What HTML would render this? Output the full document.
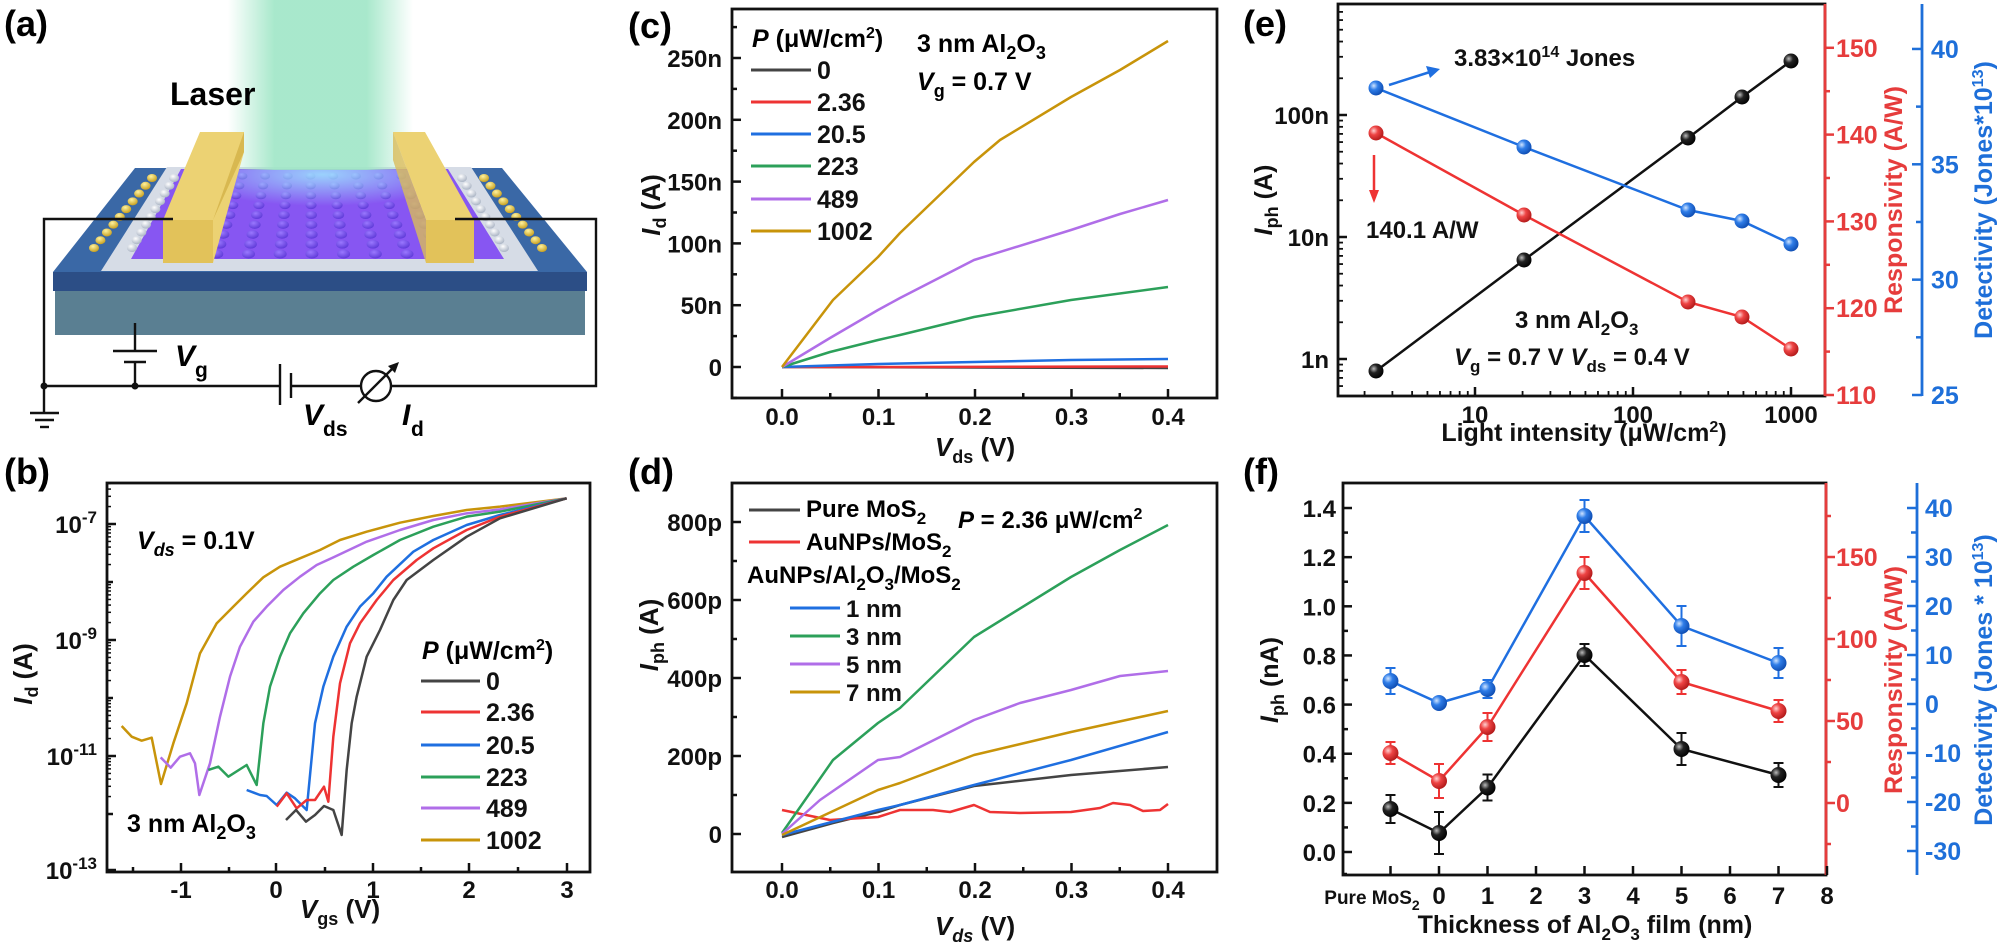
<!DOCTYPE html>
<html><head><meta charset="utf-8">
<style>
html,body{margin:0;padding:0;background:#fff;}
svg{display:block;font-family:"Liberation Sans",Arial,sans-serif;font-weight:bold;}
.t{font-size:24px;fill:#111;}
</style></head>
<body>
<svg id="s" width="2000" height="945" viewBox="0 0 2000 945" xmlns="http://www.w3.org/2000/svg">
<defs>
<linearGradient id="beam" x1="0" x2="1" y1="0" y2="0">
<stop offset="0" stop-color="#9fe6c6" stop-opacity="0"/>
<stop offset="0.25" stop-color="#9fe6c6" stop-opacity="0.9"/>
<stop offset="0.75" stop-color="#9fe6c6" stop-opacity="0.9"/>
<stop offset="1" stop-color="#9fe6c6" stop-opacity="0"/>
</linearGradient>
<linearGradient id="beamv" x1="0" x2="0" y1="0" y2="1">
<stop offset="0" stop-color="#fff" stop-opacity="0.5"/>
<stop offset="1" stop-color="#fff" stop-opacity="0"/>
</linearGradient>
<radialGradient id="gk" cx="0.35" cy="0.35" r="0.7"><stop offset="0" stop-color="#bbb"/><stop offset="0.4" stop-color="#222"/><stop offset="1" stop-color="#000"/></radialGradient>
<radialGradient id="gr" cx="0.35" cy="0.35" r="0.7"><stop offset="0" stop-color="#ffd0d0"/><stop offset="0.4" stop-color="#ee4444"/><stop offset="1" stop-color="#b01818"/></radialGradient>
<radialGradient id="gb" cx="0.35" cy="0.35" r="0.7"><stop offset="0" stop-color="#cfe4ff"/><stop offset="0.4" stop-color="#2f7de8"/><stop offset="1" stop-color="#0d4bb0"/></radialGradient>
<radialGradient id="gau" cx="0.4" cy="0.3" r="0.7"><stop offset="0" stop-color="#fff3a0"/><stop offset="1" stop-color="#c8a020"/></radialGradient>
<radialGradient id="gw" cx="0.4" cy="0.3" r="0.7"><stop offset="0" stop-color="#ffffff"/><stop offset="1" stop-color="#aab4c4"/></radialGradient>
<radialGradient id="gp" cx="0.4" cy="0.3" r="0.7"><stop offset="0" stop-color="#9a78ff"/><stop offset="1" stop-color="#5f3ad8"/></radialGradient>
<radialGradient id="glow" cx="0.5" cy="0.1" r="0.7"><stop offset="0" stop-color="#9ff0ff" stop-opacity="0.8"/><stop offset="1" stop-color="#9ff0ff" stop-opacity="0"/></radialGradient>
</defs>

<!-- ================= Panel (a) ================= -->
<text x="4" y="36" style="font-size:36px">(a)</text>
<!-- slab -->
<polygon points="135,168 502,168 587,272 53,272" fill="#3a68a6"/>
<rect x="53" y="272" width="534" height="19" fill="#2c4e86"/>
<rect x="55" y="291" width="530" height="44" fill="#5a7f92"/>
<!-- gray layer -->
<polygon points="167,167 471,167 538,271 101,271" fill="#d6dce6"/>
<!-- purple -->
<polygon points="181,169 448,169 504,259 131,259" fill="#8756f2"/>
<g id="bumps"></g>
<!-- beam -->
<rect x="228" y="0" width="185" height="170" fill="url(#beam)"/>
<polygon points="230,170 410,170 420,215 225,215" fill="url(#glow)"/>
<!-- electrodes -->
<polygon points="200,132 244,132 244,152 213,263 163,263 163,220" fill="#ecd273"/>
<polygon points="213,220 244,152 244,132 213,220" fill="#d8b850"/>
<rect x="163" y="220" width="50" height="43" fill="#e2c25a"/>
<polygon points="393,132 425,132 474,220 474,263 426,263 426,220" fill="#ecd273"/>
<rect x="426" y="220" width="48" height="43" fill="#e2c25a"/>
<polygon points="393,132 426,220 426,263 393,160" fill="#d9bc5a" opacity="0.8"/>
<!-- wires -->
<g stroke="#111" stroke-width="2.4" fill="none">
<polyline points="173,219 44,219 44,413"/>
<polyline points="455,219 596,219 596,386 391,386"/>
<line x1="44" y1="386" x2="280" y2="386"/>
<line x1="291" y1="386" x2="361" y2="386"/>
<line x1="135" y1="323" x2="135" y2="351"/>
<line x1="113" y1="351" x2="157" y2="351"/>
<line x1="124" y1="362" x2="146" y2="362"/>
<line x1="135" y1="362" x2="135" y2="386"/>
<line x1="30" y1="413" x2="59" y2="413"/>
<line x1="35" y1="420" x2="54" y2="420"/>
<line x1="40" y1="427" x2="49" y2="427"/>
<line x1="280" y1="364" x2="280" y2="405"/>
<line x1="291" y1="373" x2="291" y2="398"/>
<circle cx="376" cy="386" r="15"/>
<line x1="358" y1="403" x2="395" y2="366"/>
</g>
<polygon points="399,362 388,366 395,373" fill="#111"/>
<circle cx="44" cy="386" r="3.5" fill="#111"/>
<circle cx="135" cy="386" r="3.5" fill="#111"/>
<text x="170" y="105" style="font-size:32px">Laser</text>
<text x="175" y="366" style="font-size:30px;font-style:italic">V</text><text x="195" y="377" style="font-size:21px">g</text>
<text x="303" y="425" style="font-size:30px;font-style:italic">V</text><text x="323" y="436" style="font-size:21px">ds</text>
<text x="402" y="425" style="font-size:30px;font-style:italic">I</text><text x="411" y="436" style="font-size:21px">d</text>

<!-- ================= Panel (b) ================= -->
<text x="4" y="484" style="font-size:36px">(b)</text>
<g id="bax"></g>
<g transform="translate(0,470) scale(0.33333)" fill="none" stroke-width="7.5" stroke-linejoin="round">
<polyline stroke="#c8940a" points="365,768 395,800 425,812 455,803 483,942 520,820 560,700 600,550 650,460 700,410 740,370 790,322 840,290 900,265 960,240 1020,210 1100,185 1200,158 1300,138 1400,120 1500,110 1700,85"/>
<polyline stroke="#b06ee8" points="482,862 512,893 540,860 570,850 585,880 598,975 630,880 660,740 690,620 720,530 760,455 800,410 850,360 900,320 950,285 1000,262 1100,215 1200,180 1300,150 1400,130 1500,118 1700,85"/>
<polyline stroke="#2ca05a" points="625,900 655,890 685,920 740,885 770,945 790,760 810,650 840,560 870,490 910,430 960,370 1000,330 1060,290 1120,255 1200,210 1300,170 1400,140 1500,125 1700,85"/>
<polyline stroke="#1f6fe0" points="740,960 780,975 800,978 830,1005 860,968 885,985 920,1020 945,760 970,650 1000,560 1040,470 1080,410 1120,370 1160,320 1240,245 1300,210 1400,165 1500,135 1700,85"/>
<polyline stroke="#ee3333" points="830,1010 860,970 890,1015 920,990 945,990 972,950 985,995 1000,800 1020,640 1050,520 1080,460 1130,390 1180,330 1250,270 1300,235 1400,180 1500,140 1700,85"/>
<polyline stroke="#444" points="858,1050 888,1020 918,1055 945,1035 972,1008 1000,1020 1025,1095 1040,900 1055,760 1070,680 1100,560 1140,480 1180,390 1220,330 1300,270 1400,200 1500,145 1700,85"/>
</g>
<text x="137" y="549" style="font-size:25px"><tspan font-style="italic">V</tspan><tspan dy="7" font-size="18" font-style="italic">ds</tspan><tspan dy="-7"> = 0.1V</tspan></text>
<text x="127" y="832" style="font-size:25px">3 nm Al<tspan dy="7" font-size="18">2</tspan><tspan dy="-7">O</tspan><tspan dy="7" font-size="18">3</tspan></text>
<text x="422" y="659" style="font-size:25px"><tspan font-style="italic">P</tspan> (μW/cm<tspan dy="-9" font-size="16">2</tspan><tspan dy="9">)</tspan></text>
<g id="bleg"></g>
<text x="32" y="674" transform="rotate(-90 32 674)" text-anchor="middle" class="t" style="font-size:26px"><tspan font-style="italic">I</tspan><tspan dy="6" font-size="18">d</tspan><tspan dy="-6"> (A)</tspan></text>
<text x="340" y="918" text-anchor="middle" class="t" style="font-size:26px"><tspan font-style="italic">V</tspan><tspan dy="7" font-size="18">gs</tspan><tspan dy="-7"> (V)</tspan></text>

<!-- ================= Panel (c) ================= -->
<text x="628" y="38" style="font-size:36px">(c)</text>
<g id="cax"></g>
<g fill="none" stroke-width="2.5" stroke-linejoin="round">
<polyline stroke="#444" points="782,367 1168,368"/>
<polyline stroke="#ee3333" points="782,367 900,367 1168,366.5"/>
<polyline stroke="#1f6fe0" points="782,367 878,364 974,362 1071,360 1168,359"/>
<polyline stroke="#2ca05a" points="782,367 830,352 878,340 900,335 974,317 1071,300 1168,287"/>
<polyline stroke="#b06ee8" points="782,367 830,338 878,310 900,298 974,260 1071,230 1120,214 1168,200"/>
<polyline stroke="#c8940a" points="782,367 833,300 878,257 900,233 974,162 1000,140 1071,97 1120,70 1168,41"/>
</g>
<text x="752" y="47" style="font-size:25px"><tspan font-style="italic">P</tspan> (μW/cm<tspan dy="-9" font-size="16">2</tspan><tspan dy="9">)</tspan></text>
<text x="917" y="52" style="font-size:25px">3 nm Al<tspan dy="7" font-size="18">2</tspan><tspan dy="-7">O</tspan><tspan dy="7" font-size="18">3</tspan></text>
<text x="917" y="90" style="font-size:25px"><tspan font-style="italic">V</tspan><tspan dy="7" font-size="18">g</tspan><tspan dy="-7"> = 0.7 V</tspan></text>
<g id="cleg"></g>
<text x="660" y="205" transform="rotate(-90 660 205)" text-anchor="middle" class="t" style="font-size:26px"><tspan font-style="italic">I</tspan><tspan dy="6" font-size="18">d</tspan><tspan dy="-6"> (A)</tspan></text>
<text x="975" y="456" text-anchor="middle" class="t" style="font-size:26px"><tspan font-style="italic">V</tspan><tspan dy="7" font-size="18">ds</tspan><tspan dy="-7"> (V)</tspan></text>

<!-- ================= Panel (d) ================= -->
<text x="628" y="484" style="font-size:36px">(d)</text>
<g id="dax"></g>
<g fill="none" stroke-width="2.5" stroke-linejoin="round">
<polyline stroke="#444" points="782,837 833,823 878,812 900,805 974,786 1071,775 1168,767"/>
<polyline stroke="#ee3333" points="782,810 830,820 878,817 900,810 933,810 950,812 974,805 990,812 1020,813 1071,812 1100,808 1113,803 1130,805 1143,811 1160,810 1168,804"/>
<polyline stroke="#1f6fe0" points="782,835 878,810 900,805 974,785 1071,760 1168,732"/>
<polyline stroke="#2ca05a" points="782,833 833,760 878,723 900,708 974,637 1071,577 1120,550 1168,525"/>
<polyline stroke="#b06ee8" points="782,834 820,800 878,760 900,757 974,720 1020,703 1071,690 1120,676 1168,671"/>
<polyline stroke="#c8940a" points="782,835 878,790 900,783 974,755 1071,732 1168,711"/>
</g>
<g id="dleg"></g>
<text x="806" y="517" style="font-size:24px">Pure MoS<tspan dy="7" font-size="17">2</tspan></text>
<text x="806" y="550" style="font-size:24px">AuNPs/MoS<tspan dy="7" font-size="17">2</tspan></text>
<text x="747" y="583" style="font-size:24px">AuNPs/Al<tspan dy="7" font-size="17">2</tspan><tspan dy="-7">O</tspan><tspan dy="7" font-size="17">3</tspan><tspan dy="-7">/MoS</tspan><tspan dy="7" font-size="17">2</tspan></text>
<text x="958" y="528" style="font-size:24px"><tspan font-style="italic">P</tspan> = 2.36 μW/cm<tspan dy="-9" font-size="16">2</tspan></text>
<text x="658" y="635" transform="rotate(-90 658 635)" text-anchor="middle" class="t" style="font-size:26px"><tspan font-style="italic">I</tspan><tspan dy="6" font-size="18">ph</tspan><tspan dy="-6"> (A)</tspan></text>
<text x="975" y="935" text-anchor="middle" class="t" style="font-size:26px"><tspan font-style="italic">V</tspan><tspan dy="7" font-size="18" font-style="italic">ds</tspan><tspan dy="-7"> (V)</tspan></text>

<!-- ================= Panel (e) ================= -->
<text x="1243" y="36" style="font-size:36px">(e)</text>
<g id="eax"></g>
<g fill="none" stroke-width="2.5">
<polyline stroke="#111" points="1376,371 1524,260 1688,138 1742,97 1791,61"/>
<polyline stroke="#ee3333" points="1376,133 1524,215 1688,302 1742,317 1791,349"/>
<polyline stroke="#1f6fe0" points="1376,88 1524,147 1688,210 1742,221 1791,244"/>
</g>
<g id="emk"></g>
<line x1="1389" y1="85" x2="1430" y2="72" stroke="#1f6fe0" stroke-width="2.5"/>
<polygon points="1440,69 1426,66 1430,78" fill="#1f6fe0"/>
<line x1="1374" y1="155" x2="1374" y2="192" stroke="#ee3333" stroke-width="2.5"/>
<polygon points="1374,203 1369,190 1379,190" fill="#ee3333"/>
<text x="1454" y="66" class="t" style="font-size:24px">3.83×10<tspan dy="-9" font-size="16">14</tspan><tspan dy="9"> Jones</tspan></text>
<text x="1366" y="238" class="t" style="font-size:24px">140.1 A/W</text>
<text x="1515" y="328" class="t" style="font-size:24px">3 nm Al<tspan dy="7" font-size="17">2</tspan><tspan dy="-7">O</tspan><tspan dy="7" font-size="17">3</tspan></text>
<text x="1454" y="365" class="t" style="font-size:24px"><tspan font-style="italic">V</tspan><tspan dy="7" font-size="17">g</tspan><tspan dy="-7"> = 0.7 V   </tspan><tspan font-style="italic">V</tspan><tspan dy="7" font-size="17">ds</tspan><tspan dy="-7"> = 0.4 V</tspan></text>
<text x="1272" y="200" transform="rotate(-90 1272 200)" text-anchor="middle" class="t" style="font-size:25px"><tspan font-style="italic">I</tspan><tspan dy="6" font-size="18">ph</tspan><tspan dy="-6"> (A)</tspan></text>
<text x="1584" y="441" text-anchor="middle" class="t" style="font-size:25px">Light intensity (μW/cm<tspan dy="-9" font-size="16">2</tspan><tspan dy="9">)</tspan></text>
<text x="1902" y="200" transform="rotate(-90 1902 200)" text-anchor="middle" style="font-size:25px;fill:#e63c3c">Responsivity (A/W)</text>
<text x="1992" y="200" transform="rotate(-90 1992 200)" text-anchor="middle" style="font-size:25px;fill:#1e6fd9">Detectivity (Jones*10<tspan dy="-9" font-size="16">13</tspan><tspan dy="9">)</tspan></text>

<!-- ================= Panel (f) ================= -->
<text x="1243" y="484" style="font-size:36px">(f)</text>
<g id="fax"></g>
<g id="fdata"></g>
<text x="1278" y="680" transform="rotate(-90 1278 680)" text-anchor="middle" class="t" style="font-size:25px"><tspan font-style="italic">I</tspan><tspan dy="6" font-size="18">ph</tspan><tspan dy="-6"> (nA)</tspan></text>
<text x="1585" y="933" text-anchor="middle" class="t" style="font-size:25px">Thickness of Al<tspan dy="7" font-size="17">2</tspan><tspan dy="-7">O</tspan><tspan dy="7" font-size="17">3</tspan><tspan dy="-7"> film (nm)</tspan></text>
<text x="1902" y="680" transform="rotate(-90 1902 680)" text-anchor="middle" style="font-size:25px;fill:#e63c3c">Responsivity (A/W)</text>
<text x="1992" y="680" transform="rotate(-90 1992 680)" text-anchor="middle" style="font-size:25px;fill:#1e6fd9">Detectivity (Jones * 10<tspan dy="-9" font-size="16">13</tspan><tspan dy="9">)</tspan></text>
</svg>
<script>
(function(){
var NS="http://www.w3.org/2000/svg";
function el(g,tag,a,txt){var e=document.createElementNS(NS,tag);for(var k in a)e.setAttribute(k,a[k]);if(txt!==undefined)e.textContent=txt;document.getElementById(g).appendChild(e);return e;}
function ln(g,x1,y1,x2,y2,c,w){el(g,"line",{x1:x1,y1:y1,x2:x2,y2:y2,stroke:c||"#111","stroke-width":w||2.5});}
function tx(g,x,y,s,anc,c,fs){return el(g,"text",{x:x,y:y,"text-anchor":anc||"middle",fill:c||"#111","font-size":fs||24},s);}
function box(g,x1,y1,x2,y2){el(g,"rect",{x:x1,y:y1,width:x2-x1,height:y2-y1,fill:"none",stroke:"#111","stroke-width":2.8});}

// bumps in panel a
var i,j;
for(i=0;i<8;i++){for(j=0;j<9;j++){var t=j/8;var y=176+t*78;var xl=196-t*52+ (i+0.5)*((256-0)+t*( (498-131)-(448-181) ))/8*0+0;
 var left=181-(181-131)*t, right=448+(504-448)*t; var x=left+ (right-left)*(0.23+i*0.085);
 if(x>163&&x<213&&y>220)continue;
 el("bumps","ellipse",{cx:x,cy:y,rx:5+t*1.5,ry:3.5+t,fill:"url(#gp)"});}}
for(j=0;j<10;j++){var t=j/9;el("bumps","ellipse",{cx:152-t*58,cy:178+t*70,rx:5,ry:4,fill:"url(#gau)"});
 el("bumps","ellipse",{cx:174-t*42,cy:178+t*70,rx:5,ry:4,fill:"url(#gw)"});
 el("bumps","ellipse",{cx:484+t*58,cy:178+t*70,rx:5,ry:4,fill:"url(#gau)"});
 el("bumps","ellipse",{cx:462+t*42,cy:178+t*70,rx:5,ry:4,fill:"url(#gw)"});}

// ---- b axes
box("bax",107,483,590,872);
var dec=[[524,"-7"],[640,"-9"],[756,"-11"],[870,"-13"]];
dec.forEach(function(d){ln("bax",107,d[0],116,d[0]);var t=tx("bax",97,d[0]+9,"10","end");var s=document.createElementNS(NS,"tspan");s.setAttribute("dy","-10");s.setAttribute("font-size","17");s.textContent=d[1];t.appendChild(s);});
[582,698,814].forEach(function(y){ln("bax",107,y,113,y);});
for(var k=1;k<10;k++){[524,582,640,698,756,814].forEach(function(y0){var y=y0-58*Math.log10(k);if(k>1&&y>483)ln("bax",107,y,111,y,"#111",1.5);});}
var bx=[[181,"-1"],[276,"0"],[373,"1"],[469,"2"],[567,"3"]];
bx.forEach(function(d){ln("bax",d[0],872,d[0],863);tx("bax",d[0],898,d[1]);});
[133,229,325,421,518].forEach(function(x){ln("bax",x,872,x,867);});
var bl=[["#444","0"],["#ee3333","2.36"],["#1f6fe0","20.5"],["#2ca05a","223"],["#b06ee8","489"],["#c8940a","1002"]];
var by=[681,712,745,777,808,840];
bl.forEach(function(d,i){ln("bleg",421,by[i],480,by[i],d[0],3);tx("bleg",486,by[i]+9,d[1],"start","#111",25);});

// ---- c axes
box("cax",732,9,1217,398);
var cy0=367,cs=1.236;
for(var v=0;v<=250;v+=50){var y=cy0-v*cs;ln("cax",732,y,741,y);tx("cax",722,y+9,v==0?"0":v+"n","end");}
for(var v=-25;v<=275;v+=50){var y=cy0-v*cs;if(y>9&&y<398)ln("cax",732,y,737,y);}
var xs=[782,878.5,975,1071.5,1168];
xs.forEach(function(x,i){ln("cax",x,398,x,389);tx("cax",x,425,(i/10).toFixed(1));});
for(i=0;i<4;i++)ln("cax",(xs[i]+xs[i+1])/2,398,(xs[i]+xs[i+1])/2,393);
var cl=[["#444","0"],["#ee3333","2.36"],["#1f6fe0","20.5"],["#2ca05a","223"],["#b06ee8","489"],["#c8940a","1002"]];
var cyy=[70,102,134,166,199,231];
cl.forEach(function(d,i){ln("cleg",751,cyy[i],811,cyy[i],d[0],3);tx("cleg",817,cyy[i]+9,d[1],"start","#111",25);});

// ---- d axes
box("dax",732,483,1217,872);
for(var v=0;v<=800;v+=200){var y=834-v*0.39;ln("dax",732,y,741,y);tx("dax",722,y+9,v==0?"0":v+"p","end");}
for(var v=-100;v<=900;v+=200){var y=834-v*0.39;if(y>483&&y<872)ln("dax",732,y,737,y);}
xs.forEach(function(x,i){ln("dax",x,872,x,863);tx("dax",x,898,(i/10).toFixed(1));});
for(i=0;i<4;i++)ln("dax",(xs[i]+xs[i+1])/2,872,(xs[i]+xs[i+1])/2,867);
ln("dleg",749,510,800,510,"#444",3);ln("dleg",749,542,800,542,"#ee3333",3);
var dl=[["#1f6fe0","1 nm"],["#2ca05a","3 nm"],["#b06ee8","5 nm"],["#c8940a","7 nm"]];var dy=[608,636,664,692];
dl.forEach(function(d,i){ln("dleg",790,dy[i],840,dy[i],d[0],3);tx("dleg",846,dy[i]+9,d[1],"start","#111",24);});

// ---- e axes
box("eax",1338,4,1825,396);
ln("eax",1825,4,1825,396,"#e63c3c",2.8);
ln("eax",1922,4,1922,396,"#1e6fd9",2.8);
function ey(v){return 359-122*Math.log10(v);} // v in nA
[[1,"1n"],[10,"10n"],[100,"100n"]].forEach(function(d){var y=ey(d[0]);ln("eax",1338,y,1347,y);tx("eax",1329,y+9,d[1],"end");});
[0.1,1,10,100].forEach(function(b){for(var k=2;k<10;k++){var y=ey(b*k);if(y>6&&y<394)ln("eax",1338,y,1343,y,"#111",1.8);}});
function ex(v){return 1475+158*(Math.log10(v)-1);}
[[10,"10"],[100,"100"],[1000,"1000"]].forEach(function(d){var x=ex(d[0]);ln("eax",x,396,x,387);tx("eax",x,423,d[1]);});
[1,10,100,1000].forEach(function(b){for(var k=2;k<10;k++){var x=ex(b*k);if(x>1340&&x<1823)ln("eax",x,396,x,391,"#111",1.8);}});
for(var v=110;v<=150;v+=5){var y=395-(v-110)*8.68;ln("eax",1825,y,v%10==0?1834:1830,y,"#e63c3c",2.5);if(v%10==0)tx("eax",1836,y+9,v,"start","#e63c3c",25);}
for(var v=25;v<=42.5;v+=2.5){var y=395-(v-25)*23.07;if(y<4)continue;ln("eax",1922,y,v%5==0?1912:1916,y,"#1e6fd9",2.5);if(v%5==0)tx("eax",1931,y+9,v,"start","#1e6fd9",25);}
var exs=[1376,1524,1688,1742,1791];
[[[371,260,138,97,61],"gk"],[[133,215,302,317,349],"gr"],[[88,147,210,221,244],"gb"]].forEach(function(s){s[0].forEach(function(y,i){el("emk","circle",{cx:exs[i],cy:y,r:7.5,fill:"url(#"+s[1]+")"});});});

// ---- f axes
box("fax",1343,483,1826,875);
ln("fax",1826,483,1826,875,"#e63c3c",2.8);
ln("fax",1917,483,1917,875,"#1e6fd9",2.8);
for(var v=0;v<=14;v++){var y=852-24.57*v;ln("fax",1343,y,v%2==0?1352:1348,y);if(v%2==0)tx("fax",1336,y+9,(v/10).toFixed(1),"end");}
ln("fax",1343,876-2,1347,874);
function fx(v){return 1439+48.5*v;}
for(var v=-1;v<=8;v++){var x=fx(v);ln("fax",x,875,x,866);if(v>=0)tx("fax",x,904,v);}
tx("fax",1372,904,"Pure MoS","middle","#111",19).innerHTML='Pure MoS<tspan dy="6" font-size="14">2</tspan>';
for(var v=-25;v<=175;v+=25){var y=803-1.64*v;ln("fax",1826,y,v%50==0?1835:1831,y,"#e63c3c",2.5);if(v%50==0)tx("fax",1836,y+9,v,"start","#e63c3c",25);}
for(var v=-35;v<=45;v+=5){var y=508+(40-v)*4.9;if(y<485||y>873)continue;ln("fax",1917,y,v%10==0?1907:1911,y,"#1e6fd9",2.5);if(v%10==0)tx("fax",1925,y+9,v,"start","#1e6fd9",25);}
var fxs=[fx(-1),fx(0),fx(1),fx(3),fx(5),fx(7)];
var series=[
 ["#111","gk",[809,833,787.5,655,749,775],[14,21,13,11,16,12]],
 ["#ee3333","gr",[753,781,727,573,682,711],[11,17,14,16,12,11]],
 ["#1f6fe0","gb",[681,703,689,516,626,663],[13,4,9,16,20,15]]];
series.forEach(function(s){
 var pts=fxs.map(function(x,i){return x+","+s[2][i];}).join(" ");
 el("fdata","polyline",{points:pts,fill:"none",stroke:s[0],"stroke-width":2.5});
 fxs.forEach(function(x,i){var y=s[2][i],e=s[3][i];
  ln("fdata",x,y-e,x,y+e,s[0],2);ln("fdata",x-5,y-e,x+5,y-e,s[0],2);ln("fdata",x-5,y+e,x+5,y+e,s[0],2);
  el("fdata","circle",{cx:x,cy:y,r:8,fill:"url(#"+s[1]+")"});});
});
})();
</script>
</body></html>
